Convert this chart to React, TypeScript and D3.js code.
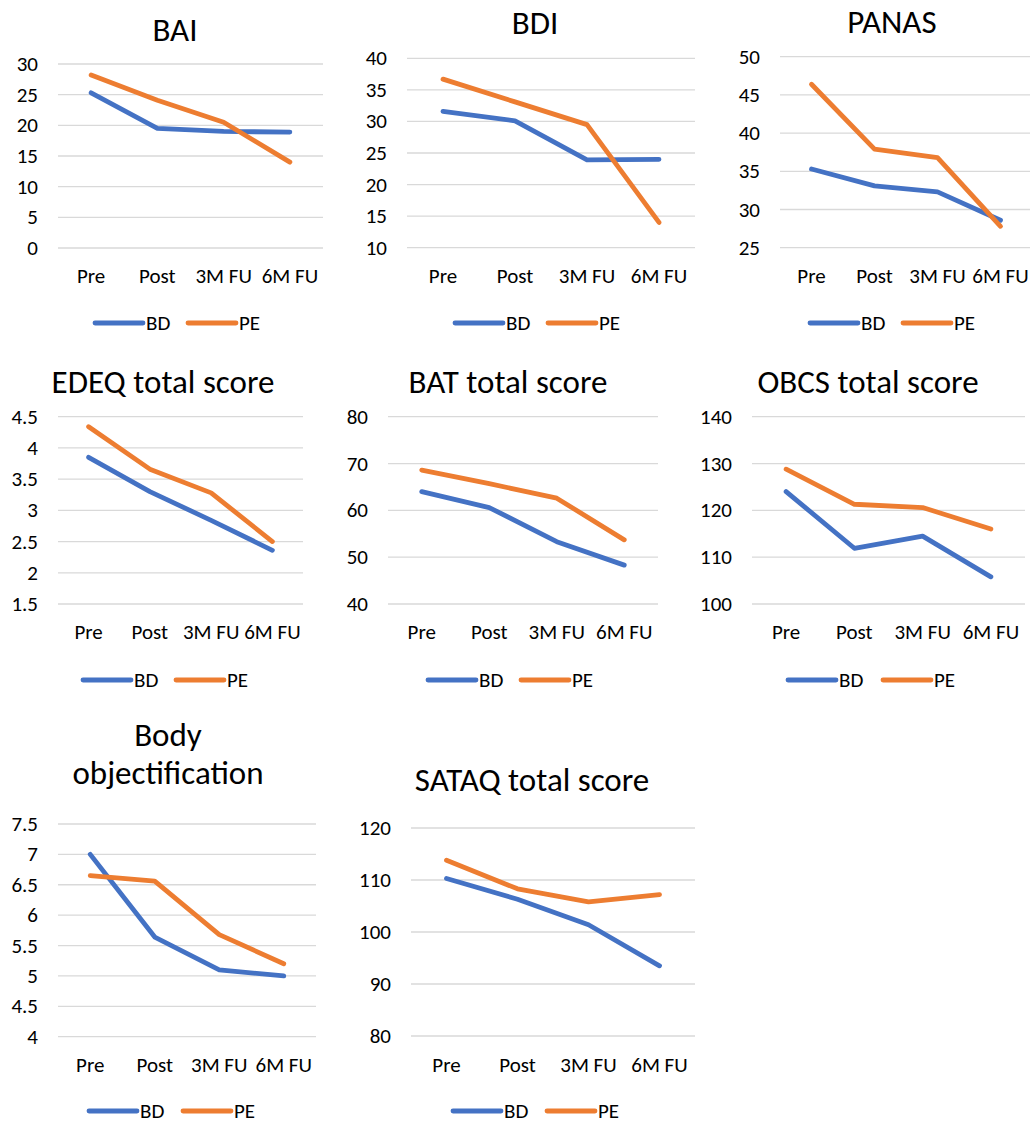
import React from "react";
import * as d3 from "d3";

const categories = ["Pre", "Post", "3M FU", "6M FU"];
const seriesNames = ["BD", "PE"];

const baiBD = [25.3, 19.5, 19.0, 18.9];
const baiPE = [28.2, 24.1, 20.5, 14.0];
const bdiBD = [31.6, 30.1, 23.9, 24.0];
const bdiPE = [36.7, 33.1, 29.5, 14.0];
const panasBD = [35.3, 33.1, 32.3, 28.6];
const panasPE = [46.4, 37.9, 36.8, 27.8];
const edeqBD = [3.85, 3.3, 2.84, 2.36];
const edeqPE = [4.34, 3.66, 3.28, 2.5];
const batBD = [64.0, 60.6, 53.3, 48.3];
const batPE = [68.6, 65.7, 62.6, 53.7];
const obcsBD = [124.0, 111.9, 114.5, 105.8];
const obcsPE = [128.8, 121.3, 120.6, 116.0];
const boBD = [7.0, 5.64, 5.1, 5.0];
const boPE = [6.65, 6.56, 5.68, 5.2];
const sataqBD = [110.3, 106.3, 101.4, 93.5];
const sataqPE = [113.8, 108.3, 105.8, 107.2];

const titles = [
  ["BAI"],
  ["BDI"],
  ["PANAS"],
  ["EDEQ total score"],
  ["BAT total score"],
  ["OBCS total score"],
  ["Body", "objectification"],
  ["SATAQ total score"],
];
const yTicks = [
  [0, 5, 10, 15, 20, 25, 30],
  [10, 15, 20, 25, 30, 35, 40],
  [25, 30, 35, 40, 45, 50],
  [1.5, 2, 2.5, 3, 3.5, 4, 4.5],
  [40, 50, 60, 70, 80],
  [100, 110, 120, 130, 140],
  [4, 4.5, 5, 5.5, 6, 6.5, 7, 7.5],
  [80, 90, 100, 110, 120],
];
const seriesData = [
  [baiBD, baiPE],
  [bdiBD, bdiPE],
  [panasBD, panasPE],
  [edeqBD, edeqPE],
  [batBD, batPE],
  [obcsBD, obcsPE],
  [boBD, boPE],
  [sataqBD, sataqPE],
];

// layout (styles/positions only)
const layouts = [
  { x0: 58, x1: 323, yT: 64, yB: 248, tx: 175, ty: [30], cy: 276, ly: 323, lx: [95, 188] },
  { x0: 407, x1: 695, yT: 58.3, yB: 247.7, tx: 535, ty: [23], cy: 276, ly: 323, lx: [455, 548] },
  { x0: 780, x1: 1032, yT: 56.7, yB: 247.7, tx: 892, ty: [22], cy: 276, ly: 323, lx: [810, 903] },
  { x0: 58, x1: 303, yT: 416.7, yB: 604, tx: 163, ty: [382], cy: 632, ly: 680, lx: [83, 176] },
  { x0: 388, x1: 658, yT: 416.7, yB: 604, tx: 508, ty: [382], cy: 632, ly: 680, lx: [428, 521] },
  { x0: 752, x1: 1025, yT: 416.7, yB: 604, tx: 868, ty: [382], cy: 632, ly: 680, lx: [788, 883] },
  { x0: 58, x1: 316, yT: 824, yB: 1036.7, tx: 168, ty: [735, 773], cy: 1065, ly: 1111, lx: [89, 183] },
  { x0: 411, x1: 695, yT: 828, yB: 1036, tx: 532, ty: [780], cy: 1065, ly: 1111, lx: [453, 547] },
];

const colors = ["#4472C4", "#ED7D31"];
const FONT = "Carlito, Calibri, Lato, 'Open Sans', sans-serif";
const TITLE_SIZE = 33;
const LABEL_SIZE = 21;
const STROKE = 4.8;

function Panel({ idx }: { idx: number }) {
  const L = layouts[idx];
  const ticks = yTicks[idx];
  const x = d3.scaleBand<string>().domain(categories).range([L.x0, L.x1]);
  const y = d3
    .scaleLinear()
    .domain([ticks[0], ticks[ticks.length - 1]])
    .range([L.yB, L.yT]);
  const line = d3
    .line<number>()
    .x((_, i) => (x(categories[i]) as number) + x.bandwidth() / 2)
    .y((v) => y(v));
  return (
    <g>
      {titles[idx].map((t, i) => (
        <text
          key={"t" + i}
          x={L.tx}
          y={L.ty[i]}
          textAnchor="middle"
          dominantBaseline="central"
          fontSize={TITLE_SIZE}
          fill="#000"
        >
          {t}
        </text>
      ))}
      {ticks.map((t) => (
        <g key={"g" + t}>
          <line x1={L.x0} x2={L.x1} y1={y(t)} y2={y(t)} stroke="#d9d9d9" strokeWidth={1.3} />
          <text
            x={L.x0 - 20}
            y={y(t)}
            textAnchor="end"
            dominantBaseline="central"
            fontSize={LABEL_SIZE}
            fill="#000"
          >
            {String(t)}
          </text>
        </g>
      ))}
      {categories.map((c) => (
        <text
          key={c}
          x={(x(c) as number) + x.bandwidth() / 2}
          y={L.cy}
          textAnchor="middle"
          dominantBaseline="central"
          fontSize={LABEL_SIZE}
          fill="#000"
        >
          {c}
        </text>
      ))}
      {seriesData[idx].map((s, i) => (
        <path
          key={"s" + i}
          d={line(s) || ""}
          fill="none"
          stroke={colors[i]}
          strokeWidth={STROKE}
          strokeLinejoin="round"
          strokeLinecap="round"
        />
      ))}
      {seriesNames.map((n, i) => (
        <g key={n}>
          <line
            x1={L.lx[i]}
            x2={L.lx[i] + 48}
            y1={L.ly}
            y2={L.ly}
            stroke={colors[i]}
            strokeWidth={STROKE}
            strokeLinecap="round"
          />
          <text
            x={L.lx[i] + 51}
            y={L.ly}
            dominantBaseline="central"
            fontSize={LABEL_SIZE}
            fill="#000"
          >
            {n}
          </text>
        </g>
      ))}
    </g>
  );
}

export default function App() {
  return (
    <svg
      width={1030}
      height={1124}
      style={{ position: "absolute", left: 0, top: 0, background: "#fff" }}
      fontFamily={FONT}
    >
      <rect width={1030} height={1124} fill="#fff" />
      {layouts.map((_, i) => (
        <Panel key={i} idx={i} />
      ))}
    </svg>
  );
}
